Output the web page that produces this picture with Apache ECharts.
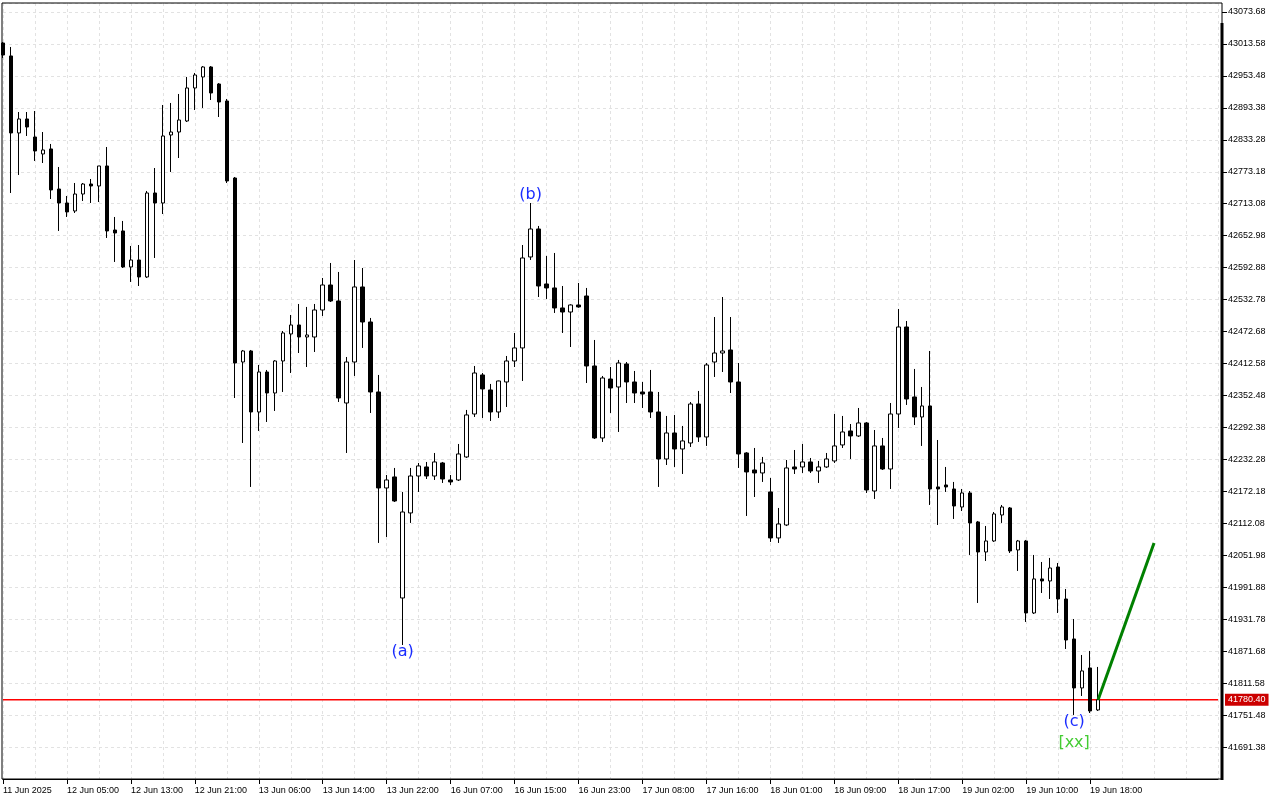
<!DOCTYPE html>
<html>
<head>
<meta charset="utf-8">
<script src="https://cdn.jsdelivr.net/npm/echarts@6.0.0/dist/echarts.min.js"></script>
<style>
html,body{margin:0;padding:0;background:#fff;}
#chart{width:1280px;height:800px;}
</style>
</head>
<body>
<div id="chart"></div>
<script>
// ---- data (hourly candles) ----
const tickLabels = ['11 Jun 2025','12 Jun 05:00','12 Jun 13:00','12 Jun 21:00','13 Jun 06:00','13 Jun 14:00','13 Jun 22:00','16 Jun 07:00','16 Jun 15:00','16 Jun 23:00','17 Jun 08:00','17 Jun 16:00','18 Jun 01:00','18 Jun 09:00','18 Jun 17:00','19 Jun 02:00','19 Jun 10:00','19 Jun 18:00'];
const slotCount = 153; // hourly slots on the axis incl. empty space on the right

const openPx = [43015.4,42991.0,42846.2,42872.5,42838.6,42806.7,42816.1,42740.8,42714.5,42699.5,
42731.4,42750.2,42746.5,42784.1,42663.7,42661.9,42594.2,42607.3,42575.4,42733.3,
42714.5,42842.4,42848.0,42868.7,42930.8,42951.5,42970.3,42938.3,42906.3,42761.5,
42415.5,42436.2,42321.5,42396.7,42357.2,42417.4,42468.2,42485.1,42462.5,42462.5,
42513.3,42560.3,42530.2,42338.4,42415.5,42556.6,42490.7,42359.1,42178.6,42199.3,
41971.7,42131.6,42201.1,42218.1,42201.1,42225.6,42193.6,42193.6,42236.9,42317.7,
42391.1,42362.9,42321.5,42377.9,42417.4,42441.9,42613.0,42665.6,42562.2,42554.7,
42517.1,42509.5,42522.7,42539.6,42408.0,42272.6,42383.5,42368.5,42411.8,42377.9,
42359.1,42359.1,42321.5,42233.1,42282.0,42251.9,42263.2,42336.5,42274.5,42415.5,
42432.4,42438.1,42377.9,42244.4,42212.4,42206.8,42171.1,42084.6,42109.0,42218.1,
42218.1,42227.5,42210.5,42218.1,42229.4,42259.5,42285.8,42276.4,42300.8,42172.9,
42257.6,42214.3,42317.7,42481.3,42349.7,42312.1,42332.8,42180.5,42184.2,42176.7,
42142.8,42169.2,42114.7,42058.2,42078.9,42127.8,42141.0,42062.0,42078.9,41943.5,
42007.5,42003.7,42030.0,41969.8,41894.6,41802.5,41840.1,41761.1];

const closePx = [42992.8,42846.2,42872.5,42857.4,42812.3,42814.2,42739.0,42714.5,42697.6,42731.4,
42750.2,42746.5,42784.1,42661.9,42658.1,42594.2,42607.3,42575.4,42733.3,42714.5,
42840.5,42848.0,42870.6,42930.8,42955.2,42970.3,42921.4,42904.4,42755.9,42413.6,
42436.2,42321.5,42396.7,42357.2,42417.4,42470.1,42485.1,42462.5,42466.3,42513.3,
42560.3,42530.2,42347.8,42415.5,42556.6,42490.7,42359.1,42178.6,42193.6,42154.1,
42133.4,42201.1,42220.0,42201.1,42227.5,42195.5,42189.9,42242.5,42315.9,42394.8,
42364.8,42321.5,42379.8,42417.4,42441.9,42611.1,42665.6,42558.4,42554.7,42517.1,
42509.5,42522.7,42519.0,42408.0,42272.6,42385.4,42366.6,42413.6,42377.9,42357.2,
42355.3,42321.5,42233.1,42282.0,42251.9,42267.0,42336.5,42274.5,42409.9,42432.4,
42436.2,42377.9,42242.5,42208.7,42206.8,42225.6,42084.6,42110.9,42216.2,42214.3,
42227.5,42210.5,42218.1,42233.1,42257.6,42283.9,42276.4,42300.8,42174.8,42257.6,
42214.3,42317.7,42481.3,42345.9,42312.1,42332.8,42176.7,42176.7,42180.5,42144.7,
42169.2,42112.8,42058.2,42078.9,42129.7,42142.8,42060.1,42078.9,41943.5,42007.5,
42003.7,42028.1,41969.8,41892.7,41802.5,41834.5,41759.2,41780.4];

const lowPx = [42987.2,42733.3,42767.2,42840.5,42793.5,42789.7,42722.0,42661.9,42688.2,42695.7,
42718.3,42714.5,42716.4,42648.7,42603.6,42592.3,42566.0,42558.4,42573.5,42611.1,
42693.8,42772.8,42799.1,42866.8,42889.4,42893.2,42908.2,42876.2,42752.1,42347.8,
42263.2,42180.5,42285.8,42302.7,42323.4,42359.1,42394.8,42432.4,42406.1,42434.3,
42502.0,42528.3,42340.3,42244.4,42389.2,42441.9,42319.6,42075.2,42086.4,42152.2,
41883.3,42112.8,42171.1,42195.5,42193.6,42188.0,42184.2,42191.7,42235.0,42312.1,
42310.2,42304.6,42310.2,42330.9,42406.1,42379.8,42607.3,42537.7,42534.0,42507.7,
42470.1,42443.7,42517.5,42376.0,42270.7,42265.1,42319.6,42283.9,42338.4,42338.4,
42329.0,42310.2,42180.5,42221.8,42218.1,42204.9,42255.7,42265.1,42257.6,42387.3,
42396.7,42357.2,42216.2,42125.9,42161.6,42189.9,42077.1,42075.2,42107.0,42204.9,
42206.8,42206.8,42188.0,42216.2,42225.6,42253.8,42233.1,42274.5,42169.2,42157.9,
42212.4,42176.7,42291.4,42334.7,42297.0,42257.6,42146.6,42109.0,42171.1,42120.3,
42135.3,42052.6,41962.3,42041.3,42077.1,42112.8,42056.3,42022.5,41926.6,41941.6,
41981.1,41969.8,41943.5,41875.8,41751.7,41787.4,41755.4,41759.2];

const highPx = [43017.3,43007.9,42885.6,42885.6,42887.5,42848.0,42825.5,42782.2,42727.7,42752.1,
42752.1,42759.6,42784.1,42819.8,42688.2,42680.7,42633.7,42635.5,42737.1,42780.3,
42898.8,42902.6,42919.5,42951.5,42959.0,42972.0,42972.0,42940.0,42910.1,42763.4,
42438.1,42438.1,42409.9,42400.5,42419.0,42473.8,42503.9,42524.6,42519.0,42524.6,
42573.5,42601.7,42584.8,42424.9,42607.3,42592.3,42498.3,42391.1,42203.0,42216.2,
42171.1,42216.2,42225.6,42227.5,42244.4,42227.5,42203.0,42261.3,42325.3,42408.0,
42394.8,42374.2,42380.5,42426.8,42470.1,42635.5,42714.5,42671.3,42614.9,42620.5,
42558.4,42524.0,42564.1,42554.7,42456.9,42389.2,42406.1,42419.3,42415.5,42398.6,
42377.9,42400.5,42359.1,42314.0,42315.9,42295.2,42340.3,42361.0,42413.6,42500.1,
42537.7,42500.1,42413.6,42246.0,42253.8,42236.9,42197.4,42141.0,42231.2,42250.0,
42261.3,42235.0,42229.4,42244.4,42317.7,42314.0,42298.9,42329.0,42302.7,42287.6,
42272.6,42338.4,42515.2,42492.6,42402.4,42368.5,42436.2,42268.8,42218.1,42189.9,
42176.7,42172.9,42116.5,42107.1,42133.4,42146.6,42142.8,42080.8,42080.8,42052.6,
42039.4,42047.0,42037.5,41988.6,41932.2,41864.5,41872.1,41842.0];

const bidPrice = 41780.40;

// wave labels
const waveText  = ['(a)', '(b)', '(c)', '[xx]'];
const waveIdx   = [50, 66, 134, 134];
const waveValue = [41870.2, 42729.6, 41738.5, 41699.0];
const waveColor = ['#1a2cff', '#1a2cff', '#1a2cff', '#44cc33'];

// projection line
const projIdx   = [137, 144];
const projValue = [41780.4, 42075.2];

// y axis
const yMin = 41631.28, yMax = 43090.60, yStep = 60.1;

// ---- build ----
const categories = Array.from({length: slotCount}, (_, i) => String(i));
const candles = openPx.map((o, i) => [o, closePx[i], lowPx[i], highPx[i]]);
const lastTickIdx = (tickLabels.length - 1) * 8;

const chart = echarts.init(document.getElementById('chart'), null, {renderer: 'canvas'});
const font = 'Liberation Sans, Arial, sans-serif';
const gridColor = '#e2e2e2';

chart.setOption({
  animation: false,
  backgroundColor: '#ffffff',
  textStyle: {fontFamily: font},
  grid: {left: 2, top: 3, width: 1216, bottom: 21, containLabel: false},
  xAxis: {
    type: 'category',
    data: categories,
    boundaryGap: false,
    axisLine: {show: true, lineStyle: {color: '#000', width: 1}},
    axisTick: {show: true, length: 5, lineStyle: {color: '#000'},
      interval: (idx) => idx % 8 === 0 && idx <= lastTickIdx},
    axisLabel: {
      show: true, fontSize: 9, color: '#000', align: 'left', margin: 7,
      fontFamily: font,
      interval: (idx) => idx % 8 === 0 && idx <= lastTickIdx,
      formatter: (v, idx) => (idx % 8 === 0 && tickLabels[idx / 8]) ? tickLabels[idx / 8] : ''
    },
    splitLine: {show: true, interval: (idx) => idx % 4 === 0,
      lineStyle: {color: gridColor, type: [3, 3], width: 1}}
  },
  yAxis: {
    type: 'value',
    position: 'right',
    offset: 4,
    min: yMin, max: yMax, interval: yStep,
    scale: true,
    axisLine: {show: false},
    axisTick: {show: true, length: 5, lineStyle: {color: '#000'}},
    axisLabel: {show: true, fontSize: 9, color: '#000', margin: 6, fontFamily: font,
      showMinLabel: false, showMaxLabel: false,
      formatter: (v) => v.toFixed(2)},
    splitLine: {show: true, lineStyle: {color: gridColor, type: [3, 3], width: 1}}
  },
  series: [
    {
      type: 'candlestick',
      data: candles,
      barWidth: 4,
      clip: true,
      itemStyle: {color: '#ffffff', color0: '#000000', borderColor: '#000000', borderColor0: '#000000', borderWidth: 1},
      z: 3
    },
    {
      type: 'line',
      data: [[0, bidPrice], [slotCount - 1, bidPrice]],
      symbol: 'none',
      showSymbol: false,
      clip: false,
      lineStyle: {color: '#ff0000', width: 1.5, type: 'solid'},
      itemStyle: {color: '#ff0000'},
      endLabel: {show: true, distance: 7,
        formatter: () => bidPrice.toFixed(2),
        backgroundColor: '#cc0000', color: '#ffffff', fontSize: 9, fontFamily: font,
        padding: [2, 3, 1, 3]},
      emphasis: {disabled: true},
      silent: true,
      z: 2
    },
    {
      type: 'line',
      data: projIdx.map((x, i) => [x, projValue[i]]),
      showSymbol: false,
      symbol: 'none',
      lineStyle: {color: '#008000', width: 3},
      z: 5
    },
    {
      type: 'scatter',
      data: waveIdx.map((x, i) => ({value: [x, waveValue[i]],
        label: {color: waveColor[i], formatter: waveText[i]}})),
      symbolSize: 1,
      itemStyle: {color: 'rgba(0,0,0,0)', opacity: 1},
      label: {show: true, position: 'inside', fontSize: 16, opacity: 1, fontFamily: 'DejaVu Sans, sans-serif'},
      z: 6
    }
  ],
  graphic: [
    {type: 'rect', z: 100, silent: true,
      shape: {x: 2, y: 3, width: 1220, height: 776},
      style: {fill: 'none', stroke: '#000', lineWidth: 1}},
    {type: 'line', z: 100, silent: true,
      shape: {x1: 1222, y1: 23, x2: 1222, y2: 780},
      style: {stroke: '#000', lineWidth: 3}}
  ]
});
</script>
</body>
</html>
